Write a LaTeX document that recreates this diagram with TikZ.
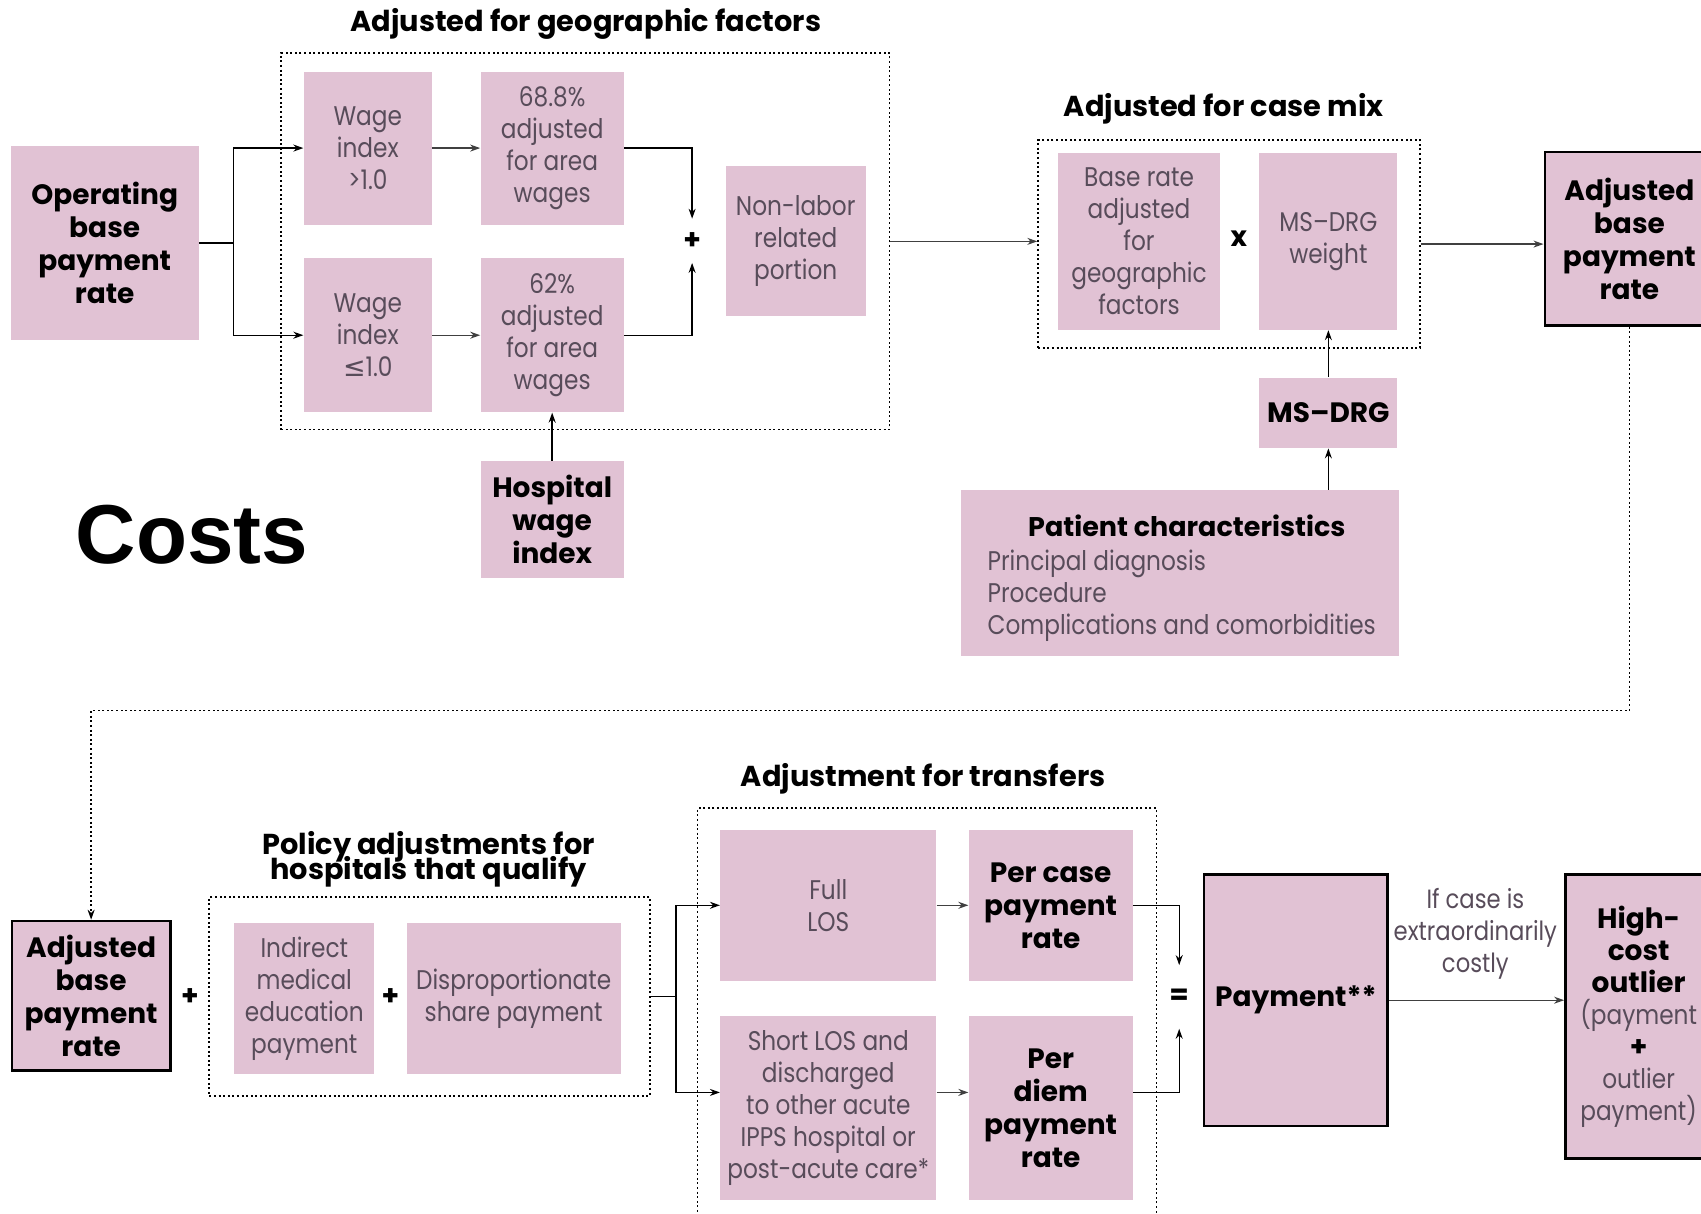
\documentclass[tikz,border=0pt]{standalone}
\usepackage{fontspec}
\setmainfont{Poppins}
\newfontfamily\bk{Poppins}[FakeStretch=0.86]
\newfontfamily\costfont{Liberation Sans}
\newfontfamily\dv{DejaVu Sans}
\usetikzlibrary{arrows.meta}
\definecolor{pinkfill}{RGB}{225,194,212}
\definecolor{booktext}{RGB}{88,76,90}
\def\U{0.5424pt}
\newcommand\tightls{\lineskiplimit-20pt\lineskip0pt\relax}
\newcommand\hv[1]{{\rmfamily\bfseries\fontsize{14}{16.2}\selectfont\color{black}#1}}
\newcommand\mybox[7]{\node[#6, minimum width={(#4-#2)*\U}, minimum height={(#5-#3)*\U}] (#1) at ({(#2+#4)/2},{(#3+#5)/2}) {#7};}
\tikzset{
 box/.style={fill=pinkfill, inner sep=0pt, align=center},
 bbox/.style={box, draw=black, line width=1.3pt},
 reg/.style={font=\bk\fontsize{13.5}{16}\selectfont, text=booktext, align=center},
 hvy/.style={font=\fontsize{14}{16.5}\selectfont\bfseries, text=black, align=center},
 grp/.style={draw=black, line width=0.9pt, dash pattern=on 1pt off 1.3pt, inner sep=0pt},
 arr/.style={-{Stealth[length=5pt,width=3.5pt]}, line width=0.7pt, draw=black!75},
 ln/.style={line width=1.1pt, draw=black},
 ttl/.style={font=\fontsize{14.4}{12.8}\selectfont\bfseries\tightls, align=center, inner sep=0pt}
}
\begin{document}
\begin{tikzpicture}[x={(0.5424pt,0)}, y={(0,-0.5424pt)}]
\path[fill=white] (0,0) rectangle (1568,1119);
\useasboundingbox (0,0) rectangle (1568,1119);

% ---------- group frames ----------
\mybox{geo}{259}{49}{820}{396}{grp}{}
\mybox{cm}{957}{129}{1309}{321}{grp}{}
\mybox{pol}{193}{827}{599}{1010}{grp}{}
\mybox{tr}{643}{745}{1066}{1140}{grp}{}

% ---------- titles ----------
\node[ttl] (tgeo) at (540,22) {Adjusted for geographic factors};
\node[ttl] (tcm) at (1128,100) {Adjusted for case mix};
\node[ttl] (tpol) at (395,792) {Policy adjustments for\\hospitals that qualify};
\node[ttl] (ttr) at (851,718) {Adjustment for transfers};

% ---------- top row ----------
\mybox{op}{10}{135}{183}{313}{box,hvy}{Operating\\base\\payment\\rate}
\mybox{w1}{280}{66}{398}{207}{box,reg}{Wage\\index\\>1.0}
\mybox{w2}{280}{238}{398}{380}{box,reg}{Wage\\index\\{\dv ≤}1.0}
\mybox{p1}{443}{66}{575}{207}{box,reg}{68.8\%\\adjusted\\for area\\wages}
\mybox{p2}{443}{238}{575}{380}{box,reg}{62\%\\adjusted\\for area\\wages}
\node[hvy, minimum width=20*\U, minimum height=40*\U, inner sep=0pt] (plA) at (638,222) {+};
\mybox{nl}{669}{153}{798}{291}{box,reg}{Non-labor\\related\\portion}
\mybox{hw}{443}{425}{575}{533}{box,hvy}{Hospital\\wage\\index}
\node[font=\costfont\bfseries\fontsize{41.8}{45}\selectfont, inner sep=0pt] (costs) at (177,493) {Costs};

\mybox{br}{975}{141}{1125}{304}{box,reg}{Base rate\\adjusted\\for\\geographic\\factors}
\node[hvy, inner sep=0pt] (times) at (1142,220) {x};
\mybox{wt}{1161}{141}{1288}{304}{box,reg}{MS–DRG\\weight}
\mybox{ms}{1161}{348}{1288}{413}{box,hvy}{MS–DRG}
\mybox{pat}{886}{452}{1290}{605}{box}{}
\node[hvy, font=\fontsize{13.5}{16}\selectfont\bfseries, inner sep=0pt] (patt) at (1094,485) {Patient characteristics};
\node[reg, align=left, anchor=north west, inner sep=0pt] (patl) at (910,507) {Principal diagnosis\\Procedure\\Complications and comorbidities};
\mybox{adj}{1424}{140}{1580}{300}{bbox,hvy}{Adjusted\\base\\payment\\rate}

% ---------- bottom row ----------
\mybox{adj2}{11}{849}{157}{987}{bbox,hvy}{Adjusted\\base\\payment\\rate}
\node[hvy, inner sep=0pt] (plB) at (175,919) {+};
\mybox{ime}{216}{851}{345}{990}{box,reg}{Indirect\\medical\\education\\payment}
\node[hvy, inner sep=0pt] (plC) at (360,919) {+};
\mybox{dsh}{375}{851}{572}{990}{box,reg}{Disproportionate\\share payment}
\mybox{full}{664}{765}{863}{904}{box,reg}{Full\\LOS}
\mybox{pc}{893}{765}{1044}{904}{box,hvy}{Per case\\payment\\rate}
\mybox{short}{664}{937}{863}{1106}{box,reg}{Short LOS and\\discharged\\to other acute\\IPPS hospital or\\post-acute care*}
\mybox{pd}{893}{937}{1044}{1106}{box,hvy}{Per\\diem\\payment\\rate}
\node[hvy, minimum height=58*\U, inner sep=0pt] (eq) at (1087,919) {=};
\mybox{pay}{1110}{806}{1279}{1038}{bbox,hvy}{Payment**}
\mybox{hc}{1443}{806}{1578}{1068}{bbox,reg}{\hv{High-}\\\hv{cost}\\\hv{outlier}\\(payment\\\hv{+}\\outlier\\payment)}
\node[reg, font=\bk\fontsize{13.2}{16}\selectfont, inner sep=0pt] (lbl) at (1360,861) {If case is\\extraordinarily\\costly};

% ---------- connectors ----------
\coordinate (b1) at (215,224);
\draw[ln] (op.east) -- (b1);
\draw[ln,arr,draw=black] (b1) |- (w1.west);
\draw[ln,arr,draw=black] (b1) |- (w2.west);
\draw[arr] (w1) -- (p1);
\draw[arr] (w2) -- (p2);
\draw[ln,arr,draw=black] (p1.east) -| (plA.north);
\draw[ln,arr,draw=black] (p2.east) -| (plA.south);
\draw[ln,arr,draw=black] (hw.north) -- (p2.south);
\draw[arr] (geo.east) -- (geo.east -| cm.west);
\draw[ln,arr,draw=black] (ms.north) -- (wt.south);
\draw[ln,arr,draw=black] (pat.north -| ms.north) -- (ms.south);
\draw[arr] (cm.east) -- (cm.east -| adj.west);
\coordinate (dl) at (84,655);
\draw[grp,arr,draw=black,line width=0.9pt] (adj.south) |- (dl) -- (adj2.north);

\coordinate (b2) at (623,918.5);
\coordinate (ys) at (0,1007);
\draw[line width=0.9pt] (pol.east) -- (b2);
\draw[ln,arr,draw=black] (b2) |- (full.west);
\draw[ln,arr,draw=black] (b2) |- (short.west |- ys);
\draw[arr] (full) -- (pc);
\draw[arr] (short.east |- ys) -- (pd.west |- ys);
\draw[ln,arr,draw=black] (pc.east) -| (eq.north);
\draw[ln,arr,draw=black] (pd.east |- ys) -| (eq.south);
\draw[arr] (pay.east) -- (pay.east -| hc.west);
\end{tikzpicture}
\end{document}
